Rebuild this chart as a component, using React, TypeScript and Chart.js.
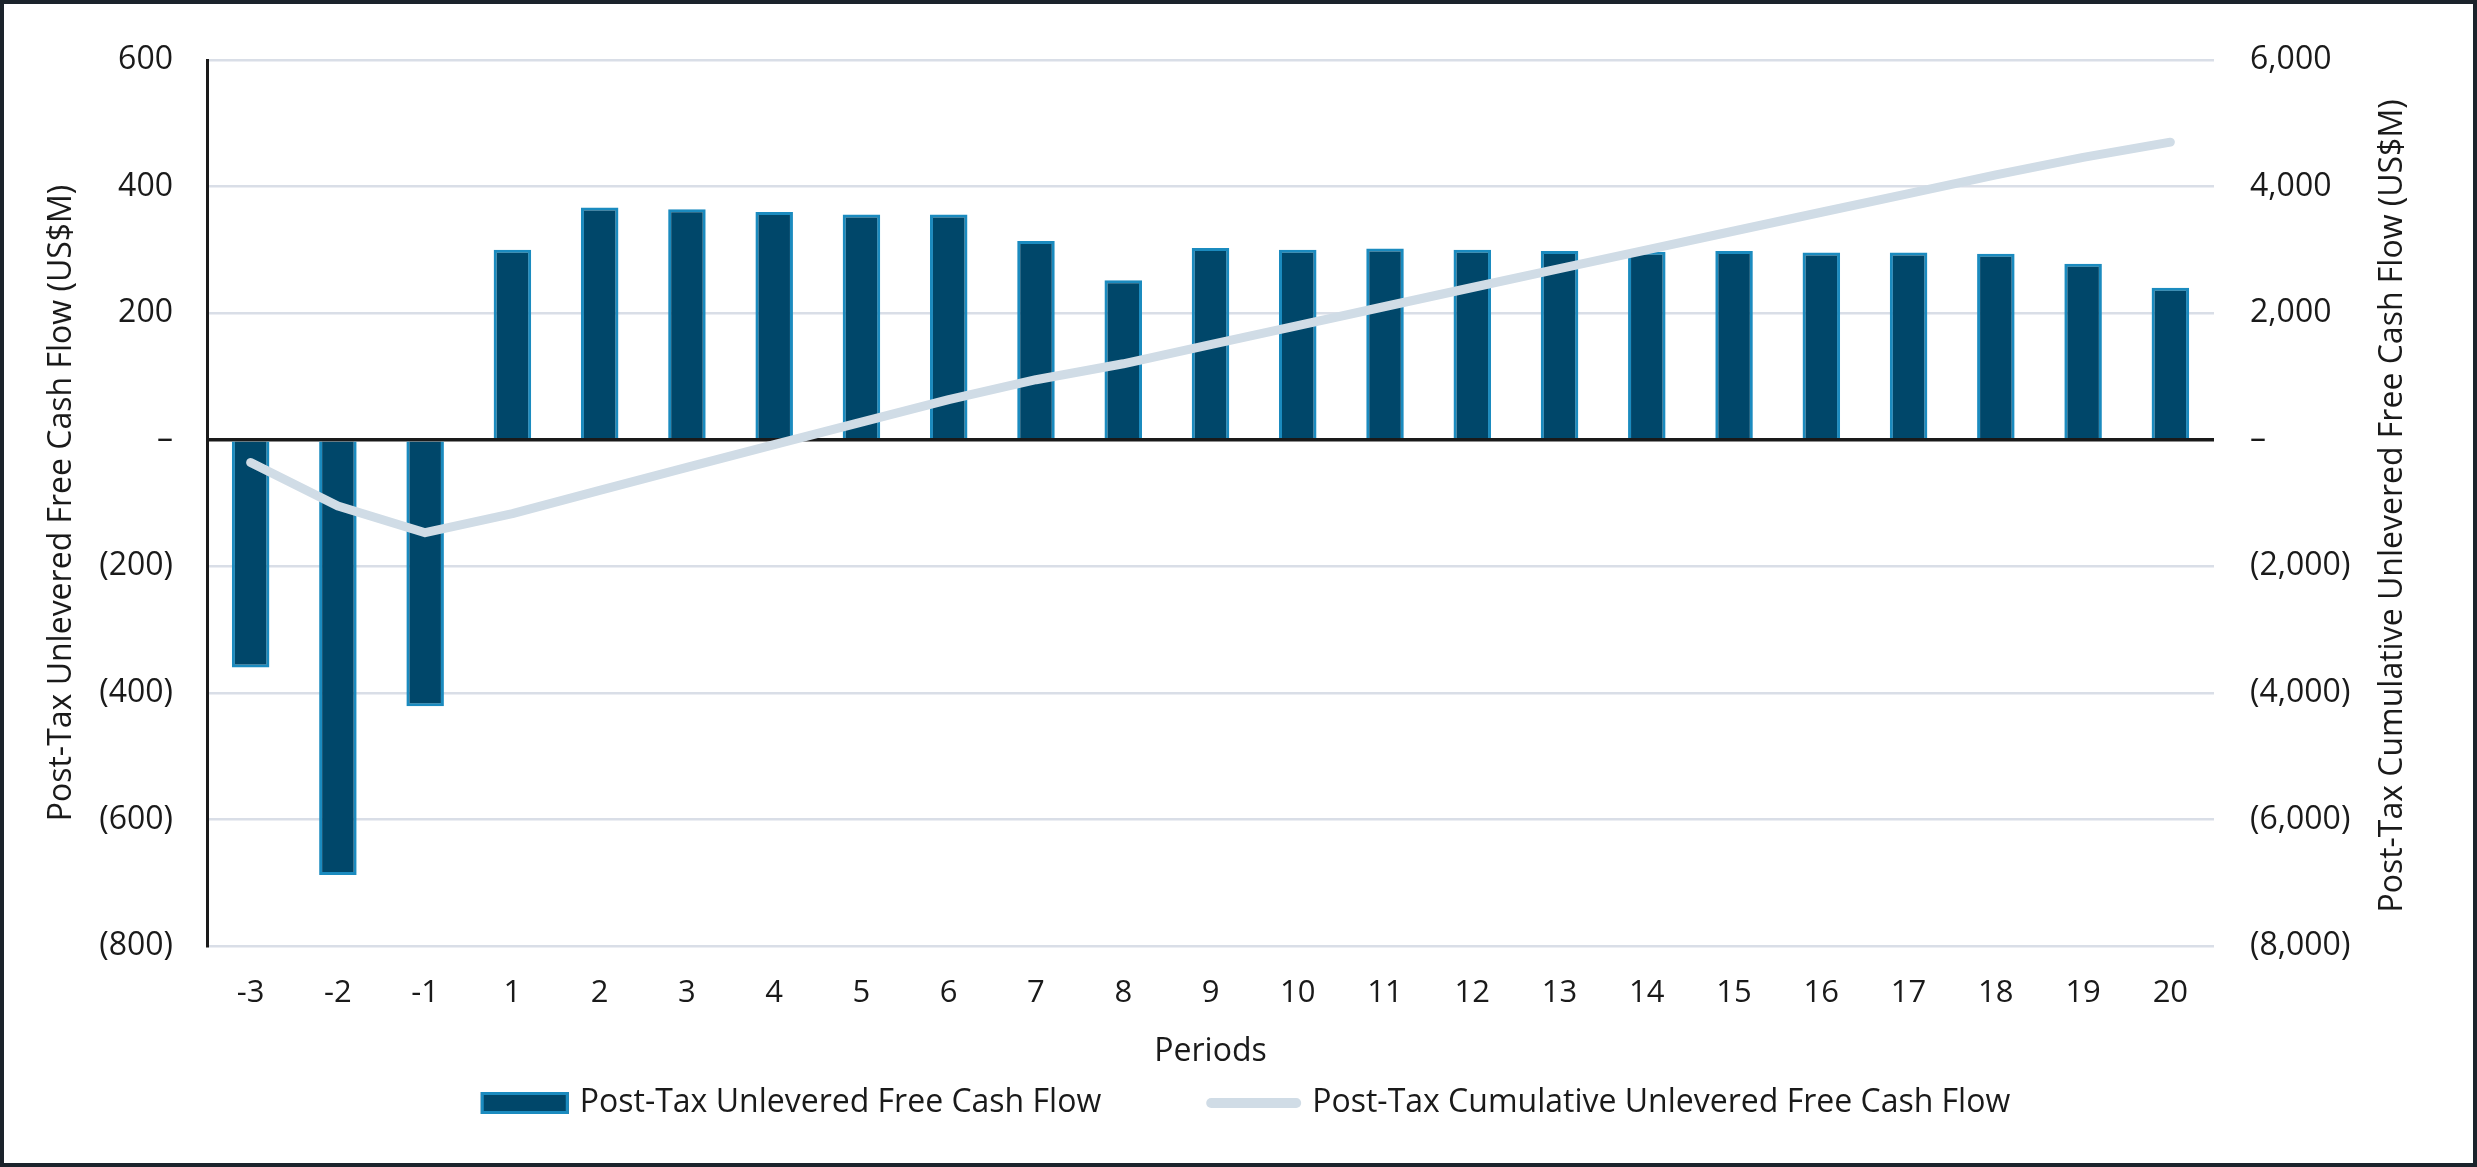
import React, { useEffect, useRef } from "react";
import { Chart, registerables } from "chart.js";

Chart.register(...registerables);

// ---------------- data ----------------
const periods = ["-3", "-2", "-1", "1", "2", "3", "4", "5", "6", "7", "8", "9", "10", "11", "12", "13", "14", "15", "16", "17", "18", "19", "20"];

const freeCashFlow = [-360, -688, -421, 300, 367, 364, 360, 356, 356, 314, 252, 303, 300, 302, 300, 298, 297, 298, 296, 296, 294, 278, 240];

const cumulativeFreeCashFlow = [-360, -1048, -1469, -1169, -802, -438, -78, 278, 634, 948, 1200, 1503, 1803, 2105, 2405, 2703, 3000, 3298, 3594, 3890, 4184, 4462, 4702];

const leftTicks = [-800, -600, -400, -200, 0, 200, 400, 600];
const leftTickLabels = ["(800)", "(600)", "(400)", "(200)", "–", "200", "400", "600"];

const rightTicks = [-8000, -6000, -4000, -2000, 0, 2000, 4000, 6000];
const rightTickLabels = ["(8,000)", "(6,000)", "(4,000)", "(2,000)", "–", "2,000", "4,000", "6,000"];

const barLabel = "Post-Tax Unlevered Free Cash Flow";
const lineLabel = "Post-Tax Cumulative Unlevered Free Cash Flow";
const leftTitle = "Post-Tax Unlevered Free Cash Flow (US$M)";
const rightTitle = "Post-Tax Cumulative Unlevered Free Cash Flow (US$M)";
const xTitle = "Periods";

// ---------------- styles ----------------
const FONT = "'Open Sans', 'Noto Sans', sans-serif";
const FS = 32;
const TEXT = "#1a1a1a";
const BAR_FILL = "#00476a";
const BAR_EDGE = "#1b8bbf";
const LINE = "#d0dce6";
const GRID = "#d9dee7";

const customPlugin = {
  id: "customLegendAndTitle",
  afterDraw(chart: any) {
    const ctx = chart.ctx as CanvasRenderingContext2D;
    const ds = chart.data.datasets;
    ctx.save();
    // right axis title (reads bottom-to-top)
    const area = chart.chartArea;
    ctx.font = `${FS}px ${FONT}`;
    ctx.fillStyle = TEXT;
    ctx.textAlign = "center";
    ctx.textBaseline = "middle";
    ctx.translate(2389, (area.top + area.bottom) / 2 + 3);
    ctx.rotate(-Math.PI / 2);
    ctx.fillText(rightTitle, 0, 0);
    ctx.setTransform(chart.currentDevicePixelRatio, 0, 0, chart.currentDevicePixelRatio, 0, 0);

    // legend
    ctx.font = `${FS}px ${FONT}`;
    const barText = ds[0].label as string;
    const lineText = ds[1].label as string;
    const w1 = ctx.measureText(barText).width;
    const w2 = ctx.measureText(lineText).width;
    const sw1 = 88, sw2 = 95, gap = 11, itemGap = 105;
    const total = sw1 + gap + w1 + itemGap + sw2 + gap + w2;
    let x = chart.width / 2 + 7 - total / 2;
    const y = 1099;
    ctx.fillStyle = BAR_FILL;
    ctx.fillRect(x, y - 11, sw1, 22);
    ctx.strokeStyle = BAR_EDGE;
    ctx.lineWidth = 3;
    ctx.strokeRect(x + 1.5, y - 11 + 1.5, sw1 - 3, 22 - 3);
    x += sw1 + gap;
    ctx.fillStyle = TEXT;
    ctx.textAlign = "left";
    ctx.textBaseline = "middle";
    ctx.fillText(barText, x, y);
    x += w1 + itemGap;
    ctx.strokeStyle = LINE;
    ctx.lineWidth = 10;
    ctx.lineCap = "round";
    ctx.beginPath();
    ctx.moveTo(x + 5, y);
    ctx.lineTo(x + sw2 - 5, y);
    ctx.stroke();
    x += sw2 + gap;
    ctx.fillStyle = TEXT;
    ctx.fillText(lineText, x, y);
    ctx.restore();
  },
};

export default function App() {
  const canvasRef = useRef<HTMLCanvasElement | null>(null);

  useEffect(() => {
    document.body.style.margin = "0";
    Chart.defaults.font.family = FONT;
    Chart.defaults.color = TEXT;
    const canvas = canvasRef.current;
    if (!canvas) return;
    const chart = new Chart(canvas, {
      type: "bar",
      data: {
        labels: periods,
        datasets: [
          {
            type: "bar",
            label: barLabel,
            data: freeCashFlow,
            backgroundColor: BAR_FILL,
            borderColor: BAR_EDGE,
            borderWidth: 3,
            barPercentage: 0.43,
            categoryPercentage: 1,
            yAxisID: "y",
            order: 1,
          } as any,
          {
            type: "line",
            label: lineLabel,
            data: cumulativeFreeCashFlow,
            borderColor: LINE,
            backgroundColor: LINE,
            borderWidth: 9,
            borderCapStyle: "round",
            borderJoinStyle: "round",
            pointRadius: 0,
            tension: 0,
            fill: false,
            yAxisID: "y2",
            order: 0,
          } as any,
        ],
      },
      options: {
        animation: false,
        responsive: true,
        maintainAspectRatio: false,
        layout: { padding: { top: 56, bottom: 91.8, left: 0, right: 0 } },
        plugins: {
          legend: { display: false },
          tooltip: { enabled: false },
        },
        scales: {
          x: {
            grid: { display: false, drawTicks: false },
            border: { display: false },
            ticks: { font: { size: 31 }, color: TEXT, padding: 29, maxRotation: 0, autoSkip: false },
            title: { display: true, text: xTitle, font: { size: FS }, color: TEXT, padding: { top: 0, bottom: 0 } },
            afterFit: (s: any) => { s.height = 125.2; },
          },
          y: {
            position: "left",
            min: -800,
            max: 600,
            afterBuildTicks: (s: any) => { s.ticks = leftTicks.map((v) => ({ value: v })); },
            ticks: {
              font: { size: FS },
              color: TEXT,
              padding: 34,
              callback: (v: any) => leftTickLabels[leftTicks.indexOf(Number(v))],
            },
            grid: {
              drawTicks: false,
              color: (c: any) => (c.tick && c.tick.value === 0 ? "#1a1a1a" : GRID),
              lineWidth: (c: any) => (c.tick && c.tick.value === 0 ? 3.5 : 2.5),
            },
            border: { display: true, color: "#1a1a1a", width: 3 },
            title: { display: true, text: leftTitle, font: { size: FS }, color: TEXT, padding: { top: 38.8, bottom: 0 } },
            afterFit: (s: any) => { s.width = 203; },
          },
          y2: {
            position: "right",
            min: -8000,
            max: 6000,
            afterBuildTicks: (s: any) => { s.ticks = rightTicks.map((v) => ({ value: v })); },
            ticks: {
              font: { size: FS },
              color: TEXT,
              padding: 36,
              callback: (v: any) => rightTickLabels[rightTicks.indexOf(Number(v))],
            },
            grid: { display: false, drawTicks: false },
            border: { display: false },
            title: { display: false },
            afterFit: (s: any) => { s.width = 259; },
          },
        },
      },
      plugins: [customPlugin],
    });
    return () => chart.destroy();
  }, []);

  return (
    <div
      style={{
        width: 2477,
        height: 1167,
        boxSizing: "border-box",
        border: "4px solid #1b232b",
        background: "#ffffff",
        position: "relative",
      }}
    >
      <div style={{ position: "relative", width: 2469, height: 1159 }}>
        <canvas ref={canvasRef} />
      </div>
    </div>
  );
}
